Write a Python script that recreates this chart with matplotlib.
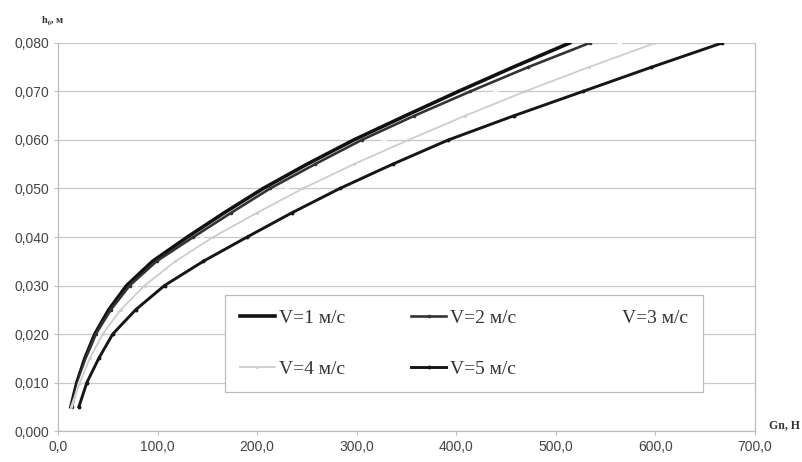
import matplotlib
matplotlib.use("Agg")
import matplotlib.pyplot as plt
from matplotlib.ticker import FuncFormatter, MultipleLocator

h_values = [0.005, 0.010, 0.015, 0.020, 0.025, 0.030, 0.035, 0.040,
            0.045, 0.050, 0.055, 0.060, 0.065, 0.070, 0.075, 0.080]
g_v1 = [13, 19, 27, 37, 51, 69, 95, 130, 167, 206, 250, 297, 349, 402, 457, 514]
g_v2 = [14, 20, 28, 38, 53, 72, 99, 136, 174, 213, 258, 305, 358, 414, 472, 534]
g_v3 = [14, 21, 30, 42, 58, 80, 108, 146, 187, 230, 278, 329, 383, 440, 500, 566]
g_v4 = [13, 22, 32, 45, 63, 87, 118, 156, 200, 246, 297, 352, 409, 469, 533, 600]
g_v5 = [21, 29, 41, 55, 78, 107, 146, 190, 235, 283, 336, 392, 458, 527, 596, 667]
labels = ["V=1 м/с", "V=2 м/с", "V=3 м/с", "V=4 м/с", "V=5 м/с"]

fig = plt.figure(figsize=(8.02, 4.62), dpi=100)
ax = fig.add_axes([0.0723, 0.067, 0.869, 0.840])

styles = [
    dict(color="#111111", lw=2.6),
    dict(color="#333333", lw=1.9, marker="o", ms=1.6),
    dict(color="#ffffff", lw=1.2),
    dict(color="#cdcdcd", lw=1.3, marker="o", ms=1.2),
    dict(color="#161616", lw=2.1, marker="o", ms=1.8),
]
series = [g_v1, g_v2, g_v3, g_v4, g_v5]
handles = []
for g, st, lab in zip(series, styles, labels):
    (ln,) = ax.plot(g, h_values, label=lab, zorder=3, **st)
    handles.append(ln)

ax.set_xlim(0, 700)
ax.set_ylim(0, 0.080)
ax.xaxis.set_major_locator(MultipleLocator(100))
ax.yaxis.set_major_locator(MultipleLocator(0.010))
ax.xaxis.set_major_formatter(FuncFormatter(lambda v, p: f"{v:.1f}".replace(".", ",")))
ax.yaxis.set_major_formatter(FuncFormatter(lambda v, p: f"{v:.3f}".replace(".", ",")))
ax.grid(axis="y", color="#c8c8c8", lw=0.9)
for s in ["left", "right", "bottom"]:
    ax.spines[s].set_color("#bdbdbd")
    ax.spines[s].set_linewidth(0.9)
ax.spines["top"].set_visible(False)
ax.tick_params(axis="both", colors="#bdbdbd", length=3, width=0.8,
               labelcolor="#444444", labelsize=10)
for t in ax.get_xticklabels() + ax.get_yticklabels():
    t.set_fontfamily("Liberation Sans")

fig.text(0.052, 0.955, "h\u2080, м", fontsize=7.5, fontweight="bold",
         family="Liberation Serif", color="#333333", ha="left", va="center")
fig.text(0.998, 0.067, "Gn, Н", fontsize=8.5, fontweight="bold",
         family="Liberation Serif", color="#333333", ha="right", va="bottom")

order = [0, 3, 1, 4, 2]
leg = ax.legend([handles[i] for i in order], [labels[i] for i in order],
                ncol=3, loc="lower left", bbox_to_anchor=(0.24, 0.10, 0.685, 0.258),
                mode="expand", frameon=True, fancybox=False, framealpha=1,
                edgecolor="#bdbdbd", prop={"family": "Liberation Serif", "size": 14},
                handlelength=1.8, handletextpad=0.2, labelspacing=1.7,
                borderpad=0.75, borderaxespad=0)
leg.get_frame().set_linewidth(0.9)
for t in leg.get_texts():
    t.set_color("#333333")

fig.savefig("out.png", dpi=100, facecolor="white")
